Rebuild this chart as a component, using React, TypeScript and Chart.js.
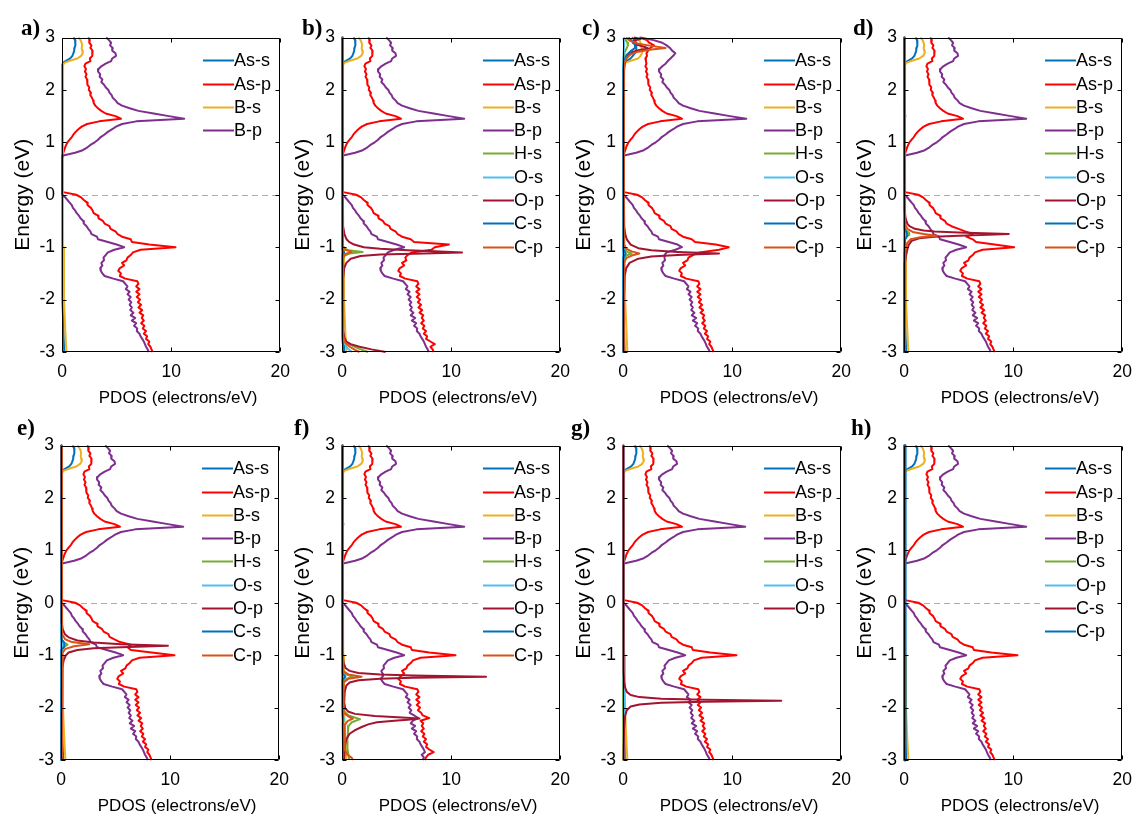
import React, { useEffect, useRef } from 'react';
import { Chart, registerables } from 'chart.js';
Chart.register(...registerables);

const FONT = '"Liberation Sans", Arial, Helvetica, sans-serif';
const TICK_SIZE = 17.5;
const TITLE_X_SIZE = 17;
const TITLE_Y_SIZE = 21;
const LEGEND_SIZE = 18;

// ---- axis settings ----
const xMin = 0, xMax = 20, xStep = 10;
const yMin = -3, yMax = 3, yStep = 1;
const fermiLevel = 0;
const xTitle = 'PDOS (electrons/eV)';
const yTitle = 'Energy (eV)';

// ---- colours (MATLAB palette) ----
const BLUE = '#0072BD', RED = '#FF0000', YEL = '#EDB120', PUR = '#7E2F8E';
const GRN = '#77AC30', LBL = '#4DBEEE', DRD = '#A2142F', ORG = '#D95319';

// ---- energy grid (eV) ----
const energy = [
  3.00, 2.95, 2.90, 2.85, 2.80, 2.75, 2.70, 2.65, 2.60, 2.55,
  2.50, 2.45, 2.40, 2.35, 2.30, 2.25, 2.20, 2.15, 2.10, 2.05,
  2.00, 1.95, 1.90, 1.85, 1.80, 1.75, 1.70, 1.65, 1.60, 1.55,
  1.50, 1.45, 1.40, 1.35, 1.30, 1.25, 1.20, 1.15, 1.10, 1.05,
  1.00, 0.95, 0.90, 0.85, 0.80, 0.75, 0.70, 0.65, 0.60, 0.55,
  0.50, 0.45, 0.40, 0.35, 0.30, 0.25, 0.20, 0.15, 0.10, 0.05,
  0.00, -0.05, -0.10, -0.15, -0.20, -0.25, -0.30, -0.35, -0.40, -0.45,
  -0.50, -0.55, -0.60, -0.65, -0.70, -0.75, -0.80, -0.85, -0.90, -0.95,
  -1.00, -1.05, -1.10, -1.15, -1.20, -1.25, -1.30, -1.35, -1.40, -1.45,
  -1.50, -1.55, -1.60, -1.65, -1.70, -1.75, -1.80, -1.85, -1.90, -1.95,
  -2.00, -2.05, -2.10, -2.15, -2.20, -2.25, -2.30, -2.35, -2.40, -2.45,
  -2.50, -2.55, -2.60, -2.65, -2.70, -2.75, -2.80, -2.85, -2.90, -2.95,
  -3.00,
];

// ---- As-p PDOS on the energy grid ----
const asP_a = [
  2.4, 2.55, 2.5, 2.7, 2.6, 2.8, 2.75, 2.8, 2.55, 2.6,
  2.15, 2.05, 2.2, 2.1, 2.25, 2.15, 2.3, 2.35, 2.3, 2.5,
  2.45, 2.65, 2.6, 2.75, 2.85, 2.9, 3.05, 3.3, 3.6, 4.0,
  4.9, 5.4, 3.4, 2.3, 1.8, 1.5, 1.25, 1.05, 0.9, 0.7,
  0.5, 0.38, 0.28, 0.2, 0.12, 0.03, 0, 0, 0, 0,
  0, 0, 0, 0, 0, 0, 0, 0, 0, 0.1,
  1.3, 1.75, 2.0, 2.3, 2.35, 2.65, 2.8, 2.9, 3.3, 3.35,
  3.75, 3.9, 4.35, 4.45, 4.9, 5.1, 5.5, 6.3, 6.4, 8.0,
  10.4, 7.2, 6.5, 6.3, 6.0, 5.9, 5.5, 5.7, 5.3, 5.15,
  5.4, 5.3, 5.8, 6.9, 7.0, 6.8, 7.1, 6.8, 7.1, 6.85,
  7.15, 6.95, 7.25, 7.0, 7.35, 7.1, 7.45, 7.3, 7.5, 7.25,
  7.55, 7.4, 7.7, 7.5, 7.8, 7.7, 8.0, 7.9, 8.1, 8.2,
  8.3,
];
const asP_b = [
  2.4, 2.55, 2.5, 2.7, 2.6, 2.8, 2.75, 2.8, 2.55, 2.6,
  2.15, 2.05, 2.2, 2.1, 2.25, 2.15, 2.3, 2.35, 2.3, 2.5,
  2.45, 2.65, 2.6, 2.75, 2.85, 2.9, 3.05, 3.3, 3.6, 4.0,
  4.9, 5.4, 3.4, 2.3, 1.8, 1.5, 1.25, 1.05, 0.9, 0.7,
  0.5, 0.38, 0.28, 0.2, 0.12, 0.03, 0, 0, 0, 0,
  0, 0, 0, 0, 0, 0, 0, 0, 0, 0.1,
  1.3, 1.75, 2.0, 2.3, 2.35, 2.65, 2.8, 2.9, 3.3, 3.35,
  3.75, 3.9, 4.35, 4.45, 4.9, 5.1, 5.5, 6.3, 6.6, 9.8,
  8.5, 8.2, 6.4, 6.0, 5.8, 5.9, 5.5, 5.7, 5.3, 5.15,
  5.4, 5.3, 5.8, 6.9, 7.0, 6.8, 7.1, 6.8, 7.1, 6.85,
  7.15, 6.95, 7.25, 7.0, 7.35, 7.1, 7.45, 7.3, 7.5, 7.25,
  7.55, 7.4, 7.7, 7.5, 7.8, 7.7, 8.1, 8.5, 8.1, 8.3,
  8.4,
];
const asP_c = [
  1.5, 2.2, 2.4, 2.85, 2.5, 2.3, 2.15, 2.2, 2.05, 2.1,
  2.15, 2.05, 2.2, 2.1, 2.25, 2.15, 2.3, 2.35, 2.3, 2.5,
  2.45, 2.65, 2.6, 2.75, 2.85, 2.9, 3.05, 3.3, 3.6, 4.0,
  4.9, 5.4, 3.4, 2.3, 1.8, 1.5, 1.25, 1.05, 0.9, 0.7,
  0.5, 0.38, 0.28, 0.2, 0.12, 0.03, 0, 0, 0, 0,
  0, 0, 0, 0, 0, 0, 0, 0, 0, 0.1,
  1.3, 1.75, 2.0, 2.3, 2.35, 2.65, 2.8, 2.9, 3.3, 3.35,
  3.75, 3.9, 4.35, 4.45, 4.9, 5.1, 5.5, 6.3, 6.6, 8.5,
  9.7, 8.8, 7.0, 6.4, 6.0, 5.9, 5.5, 5.7, 5.3, 5.15,
  5.4, 5.3, 5.8, 6.9, 7.0, 6.8, 7.1, 6.8, 7.1, 6.85,
  7.15, 6.95, 7.25, 7.0, 7.35, 7.1, 7.45, 7.3, 7.5, 7.25,
  7.55, 7.4, 7.7, 7.5, 7.8, 7.7, 8.0, 7.9, 8.1, 8.2,
  8.3,
];
const asP_d = [
  2.4, 2.55, 2.5, 2.7, 2.6, 2.8, 2.75, 2.8, 2.55, 2.6,
  2.15, 2.05, 2.2, 2.1, 2.25, 2.15, 2.3, 2.35, 2.3, 2.5,
  2.45, 2.65, 2.6, 2.75, 2.85, 2.9, 3.05, 3.3, 3.6, 4.0,
  4.9, 5.4, 3.4, 2.3, 1.8, 1.5, 1.25, 1.05, 0.9, 0.7,
  0.5, 0.38, 0.28, 0.2, 0.12, 0.03, 0, 0, 0, 0,
  0, 0, 0, 0, 0, 0, 0, 0, 0, 0.1,
  1.3, 1.75, 2.0, 2.3, 2.35, 2.65, 2.8, 2.9, 3.3, 3.35,
  3.75, 3.9, 4.35, 5.0, 5.6, 6.3, 5.7, 6.3, 6.6, 8.3,
  10.1, 7.2, 6.5, 6.3, 6.0, 5.9, 5.5, 5.7, 5.3, 5.15,
  5.4, 5.3, 5.8, 6.9, 7.0, 6.8, 7.1, 6.8, 7.1, 6.85,
  7.15, 6.95, 7.25, 7.0, 7.35, 7.1, 7.45, 7.3, 7.5, 7.25,
  7.55, 7.4, 7.7, 7.5, 7.8, 7.7, 8.0, 7.9, 8.1, 8.2,
  8.3,
];
const asP_e = [
  2.4, 2.55, 2.5, 2.7, 2.6, 2.8, 2.75, 2.8, 2.55, 2.6,
  2.15, 2.05, 2.2, 2.1, 2.25, 2.15, 2.3, 2.35, 2.3, 2.5,
  2.45, 2.65, 2.6, 2.75, 2.85, 2.9, 3.05, 3.3, 3.6, 4.0,
  4.9, 5.4, 3.4, 2.3, 1.8, 1.5, 1.25, 1.05, 0.9, 0.7,
  0.5, 0.38, 0.28, 0.2, 0.12, 0.03, 0, 0, 0, 0,
  0, 0, 0, 0, 0, 0, 0, 0, 0, 0.1,
  1.3, 1.75, 2.0, 2.3, 2.35, 2.65, 2.8, 2.9, 3.3, 3.35,
  3.75, 3.9, 4.35, 4.45, 4.9, 5.4, 6.4, 6.1, 6.4, 8.3,
  10.4, 7.2, 6.5, 6.3, 6.0, 5.9, 5.5, 5.7, 5.3, 5.15,
  5.4, 5.3, 5.8, 6.9, 7.0, 6.8, 7.1, 6.8, 7.1, 6.85,
  7.15, 6.95, 7.25, 7.0, 7.35, 7.1, 7.45, 7.3, 7.5, 7.25,
  7.55, 7.4, 7.7, 7.5, 7.8, 7.7, 8.0, 7.9, 8.1, 8.2,
  8.3,
];
const asP_f = [
  2.4, 2.55, 2.5, 2.7, 2.6, 2.8, 2.75, 2.8, 2.55, 2.6,
  2.15, 2.05, 2.2, 2.1, 2.25, 2.15, 2.3, 2.35, 2.3, 2.5,
  2.45, 2.65, 2.6, 2.75, 2.85, 2.9, 3.05, 3.3, 3.6, 4.0,
  4.9, 5.4, 3.4, 2.3, 1.8, 1.5, 1.25, 1.05, 0.9, 0.7,
  0.5, 0.38, 0.28, 0.2, 0.12, 0.03, 0, 0, 0, 0,
  0, 0, 0, 0, 0, 0, 0, 0, 0, 0.1,
  1.3, 1.75, 2.0, 2.3, 2.35, 2.65, 2.8, 2.9, 3.3, 3.35,
  3.75, 3.9, 4.35, 4.45, 4.9, 5.1, 5.5, 6.3, 6.4, 8.0,
  10.4, 7.2, 6.5, 6.3, 6.0, 5.9, 5.5, 5.7, 5.4, 5.15,
  5.4, 5.3, 5.8, 6.9, 7.0, 6.8, 7.1, 6.8, 7.1, 6.85,
  7.15, 6.95, 7.25, 7.4, 8.0, 7.2, 7.45, 7.3, 7.5, 7.25,
  7.55, 7.4, 7.7, 7.5, 7.8, 7.7, 8.0, 8.4, 7.9, 7.7,
  7.6,
];

// ---- B-p PDOS on the energy grid ----
const bP_a = [
  4.05, 4.3, 4.5, 4.4, 4.65, 4.6, 4.9, 4.95, 4.6, 4.5,
  4.0, 3.6, 3.35, 3.3, 3.5, 3.45, 3.7, 3.6, 3.85, 4.0,
  4.25, 4.35, 4.55, 4.65, 4.9, 5.1, 5.5, 6.2, 7.0, 8.4,
  9.8, 11.2, 6.8, 5.5, 4.95, 4.6, 4.2, 3.9, 3.55, 3.3,
  3.0, 2.6, 2.3, 1.9, 1.2, 0.1, 0, 0, 0, 0,
  0, 0, 0, 0, 0, 0, 0, 0, 0, 0,
  0.05, 0.3, 0.5, 0.7, 0.9, 1.0, 1.2, 1.35, 1.55, 1.7,
  1.95, 2.0, 2.25, 2.4, 2.6, 2.7, 3.2, 3.3, 4.2, 5.0,
  5.7, 4.8, 4.2, 4.0, 3.8, 3.85, 3.6, 3.7, 3.5, 3.55,
  3.7, 3.9, 4.7, 5.6, 5.8, 6.0, 5.85, 6.2, 6.0, 6.3,
  6.1, 6.35, 6.2, 6.4, 6.25, 6.55, 6.3, 6.7, 6.4, 6.8,
  6.6, 6.9, 6.85, 7.1, 7.2, 7.35, 7.5, 7.6, 7.7, 7.85,
  7.95,
];
const bP_c = [
  1.6, 2.8, 3.6, 4.0, 4.3, 4.5, 4.8, 4.6, 4.35, 4.1,
  3.9, 3.6, 3.35, 3.3, 3.5, 3.45, 3.7, 3.6, 3.85, 4.0,
  4.25, 4.35, 4.55, 4.65, 4.9, 5.1, 5.5, 6.2, 7.0, 8.4,
  9.8, 11.3, 6.8, 5.5, 4.95, 4.6, 4.2, 3.9, 3.55, 3.3,
  3.0, 2.6, 2.3, 1.9, 1.2, 0.1, 0, 0, 0, 0,
  0, 0, 0, 0, 0, 0, 0, 0, 0, 0,
  0.05, 0.3, 0.5, 0.7, 0.9, 1.0, 1.2, 1.35, 1.55, 1.7,
  1.95, 2.0, 2.25, 2.4, 2.6, 2.7, 3.2, 3.3, 4.2, 5.0,
  5.4, 4.8, 4.0, 3.8, 3.8, 3.85, 3.6, 3.7, 3.5, 3.55,
  3.7, 3.9, 4.7, 5.6, 5.8, 6.0, 5.85, 6.2, 6.0, 6.3,
  6.1, 6.35, 6.2, 6.4, 6.25, 6.55, 6.3, 6.7, 6.4, 6.8,
  6.6, 6.9, 6.85, 7.1, 7.2, 7.35, 7.5, 7.6, 7.7, 7.85,
  7.95,
];
const bP_f = [
  4.05, 4.3, 4.5, 4.4, 4.65, 4.6, 4.9, 4.95, 4.6, 4.5,
  4.0, 3.6, 3.35, 3.3, 3.5, 3.45, 3.7, 3.6, 3.85, 4.0,
  4.25, 4.35, 4.55, 4.65, 4.9, 5.1, 5.5, 6.2, 7.0, 8.4,
  9.8, 11.2, 6.8, 5.5, 4.95, 4.6, 4.2, 3.9, 3.55, 3.3,
  3.0, 2.6, 2.3, 1.9, 1.2, 0.1, 0, 0, 0, 0,
  0, 0, 0, 0, 0, 0, 0, 0, 0, 0,
  0.05, 0.3, 0.5, 0.7, 0.9, 1.0, 1.2, 1.35, 1.55, 1.7,
  1.95, 2.0, 2.25, 2.4, 2.6, 2.7, 3.2, 3.3, 4.2, 5.0,
  5.7, 4.8, 4.2, 4.0, 3.8, 3.85, 3.6, 3.7, 3.75, 3.55,
  3.7, 3.9, 4.7, 5.6, 5.8, 6.0, 5.85, 6.2, 6.0, 6.3,
  6.1, 6.35, 6.2, 6.6, 7.0, 6.5, 6.3, 6.7, 6.4, 6.8,
  6.6, 6.9, 6.85, 7.1, 7.2, 7.35, 7.5, 7.6, 7.3, 7.5,
  7.4,
];

// ---- sparse series: [energy, PDOS] pairs ----
type Pt = [number, number];

const asS_base: Pt[] = [[3, 1.05], [2.95, 1.2], [2.9, 1.25], [2.85, 1.2], [2.8, 1.15], [2.75, 1.12], [2.7, 1.05], [2.65, 0.95], [2.6, 0.75], [2.56, 0.4], [2.52, 0.1], [2.48, 0.03], [0, 0.02], [-1.5, 0.03], [-2.0, 0.06], [-2.5, 0.12], [-3, 0.2]];
const bS_base: Pt[] = [[3, 1.5], [2.95, 1.7], [2.9, 1.8], [2.85, 1.85], [2.8, 1.8], [2.75, 1.85], [2.7, 1.9], [2.65, 1.75], [2.6, 1.4], [2.56, 0.8], [2.52, 0.25], [2.48, 0.1], [1.0, 0.08], [0, 0.08], [-1.0, 0.1], [-2.0, 0.18], [-2.5, 0.28], [-3, 0.4]];
const flat0: Pt[] = [[3, 0.02], [-3, 0.02]];

// panel b
const hS_b: Pt[] = [[3, 0.02], [-0.95, 0.03], [-1.02, 0.2], [-1.06, 0.6], [-1.09, 1.9], [-1.12, 0.7], [-1.16, 0.25], [-1.25, 0.05], [-2.7, 0.05], [-2.8, 0.3], [-2.87, 0.8], [-2.94, 1.6], [-3, 2.4]];
const oS_b: Pt[] = [[3, 0.02], [-1.05, 0.03], [-1.1, 0.15], [-1.15, 0.03], [-2.75, 0.05], [-2.85, 0.25], [-2.93, 0.5], [-3, 0.9]];
const oP_b: Pt[] = [[3, 0.02], [-0.6, 0.1], [-0.75, 0.22], [-0.85, 0.42], [-0.9, 0.65], [-0.95, 1.1], [-1.0, 2.0], [-1.03, 3.5], [-1.06, 6.0], [-1.08, 8.5], [-1.1, 11.0], [-1.12, 7.5], [-1.14, 3.5], [-1.17, 1.7], [-1.22, 0.8], [-1.3, 0.4], [-1.4, 0.2], [-1.6, 0.1], [-2.6, 0.1], [-2.72, 0.2], [-2.8, 0.4], [-2.85, 0.8], [-2.9, 1.6], [-2.95, 2.7], [-3, 4.0]];
const cS_b: Pt[] = [[3, 0.03], [-1.05, 0.04], [-1.1, 0.2], [-1.15, 0.04], [-2.8, 0.05], [-3, 0.2]];
const cP_b: Pt[] = [[3, 0.06], [-1.0, 0.08], [-1.05, 0.3], [-1.09, 0.9], [-1.13, 0.3], [-1.2, 0.1], [-2.7, 0.1], [-2.82, 0.3], [-2.9, 0.7], [-2.96, 1.2], [-3, 1.6]];

// panel c
const asS_c: Pt[] = [[3, 0.8], [2.95, 1.1], [2.9, 1.2], [2.85, 1.25], [2.8, 1.2], [2.75, 1.2], [2.7, 1.1], [2.65, 0.9], [2.6, 0.7], [2.56, 0.4], [2.52, 0.1], [2.48, 0.03], [0, 0.02], [-2, 0.05], [-3, 0.15]];
const bS_c: Pt[] = [[3, 1.2], [2.95, 1.5], [2.9, 1.6], [2.85, 1.65], [2.8, 1.7], [2.75, 1.75], [2.7, 1.75], [2.65, 1.6], [2.6, 1.4], [2.56, 0.8], [2.52, 0.25], [2.48, 0.1], [0, 0.08], [-2, 0.2], [-3, 0.4]];
const hS_c: Pt[] = [[3, 0.1], [2.95, 0.25], [2.9, 0.4], [2.85, 0.45], [2.8, 0.35], [2.72, 0.15], [2.6, 0.05], [2.4, 0.02], [-1.0, 0.03], [-1.08, 0.3], [-1.12, 0.8], [-1.16, 0.3], [-1.25, 0.05], [-3, 0.03]];
const oS_c: Pt[] = [[3, 0.05], [2.85, 0.1], [2.6, 0.02], [-3, 0.02]];
const oP_c: Pt[] = [[3, 1.0], [2.97, 1.6], [2.94, 1.0], [2.9, 0.9], [2.86, 1.3], [2.82, 2.0], [2.79, 2.3], [2.76, 1.5], [2.72, 0.8], [2.65, 0.4], [2.55, 0.2], [2.4, 0.1], [1.5, 0.05], [-0.6, 0.1], [-0.75, 0.2], [-0.85, 0.35], [-0.95, 0.7], [-1.02, 1.4], [-1.06, 2.6], [-1.09, 5.0], [-1.12, 8.8], [-1.15, 5.0], [-1.18, 2.6], [-1.22, 1.4], [-1.3, 0.6], [-1.4, 0.3], [-1.55, 0.15], [-2, 0.08], [-3, 0.05]];
const cS_c: Pt[] = [[3, 0.5], [2.92, 0.9], [2.86, 1.1], [2.8, 1.1], [2.74, 0.7], [2.66, 0.3], [2.55, 0.1], [2.4, 0.03], [-1.05, 0.04], [-1.12, 0.25], [-1.2, 0.04], [-3, 0.03]];
const cP_c: Pt[] = [[3, 0.3], [2.94, 0.6], [2.88, 1.4], [2.84, 2.6], [2.8, 3.9], [2.77, 2.6], [2.73, 1.4], [2.68, 0.7], [2.6, 0.3], [2.5, 0.12], [2.3, 0.08], [-0.95, 0.08], [-1.03, 0.3], [-1.08, 0.8], [-1.12, 1.5], [-1.16, 0.8], [-1.21, 0.3], [-1.3, 0.1], [-3, 0.06]];

// panel d
const hS_d: Pt[] = [[3, 0.02], [-0.6, 0.03], [-0.68, 0.15], [-0.72, 0.45], [-0.76, 0.5], [-0.8, 0.2], [-0.88, 0.05], [-3, 0.02]];
const oS_d: Pt[] = [[3, 0.02], [-0.7, 0.03], [-0.75, 0.15], [-0.8, 0.03], [-3, 0.02]];
const oP_d: Pt[] = [[3, 0.02], [-0.3, 0.05], [-0.45, 0.15], [-0.55, 0.3], [-0.6, 0.5], [-0.65, 1.0], [-0.68, 1.8], [-0.7, 2.8], [-0.72, 5.0], [-0.75, 9.6], [-0.78, 5.0], [-0.8, 2.8], [-0.83, 1.4], [-0.88, 0.7], [-0.95, 0.45], [-1.05, 0.3], [-1.15, 0.2], [-1.3, 0.08], [-3, 0.02]];
const cS_d: Pt[] = [[3, 0.05], [1.6, 0.05], [1.5, 0.12], [1.4, 0.05], [-0.65, 0.05], [-0.72, 0.25], [-0.78, 0.3], [-0.85, 0.1], [-1.1, 0.05], [-3, 0.03]];
const cP_d: Pt[] = [[3, 0.08], [-0.55, 0.1], [-0.65, 0.3], [-0.71, 0.8], [-0.75, 1.8], [-0.78, 3.0], [-0.81, 1.5], [-0.85, 0.6], [-0.92, 0.3], [-1.05, 0.12], [-3, 0.08]];

// panel e
const hS_e: Pt[] = [[3, 0.02], [-0.7, 0.05], [-0.76, 0.3], [-0.8, 0.6], [-0.84, 0.3], [-0.9, 0.05], [-3, 0.02]];
const oS_e: Pt[] = [[3, 0.02], [-0.75, 0.03], [-0.8, 0.15], [-0.85, 0.03], [-3, 0.02]];
const oP_e: Pt[] = [[3, 0.02], [-0.35, 0.05], [-0.5, 0.15], [-0.6, 0.35], [-0.66, 0.7], [-0.72, 1.5], [-0.76, 3.0], [-0.79, 5.5], [-0.82, 9.8], [-0.85, 5.5], [-0.87, 3.0], [-0.9, 1.5], [-0.95, 0.7], [-1.0, 0.45], [-1.1, 0.25], [-1.25, 0.1], [-3, 0.03]];
const cS_e: Pt[] = [[3, 0.05], [-0.7, 0.05], [-0.77, 0.3], [-0.84, 0.3], [-0.9, 0.05], [-3, 0.03]];
const cP_e: Pt[] = [[3, 0.08], [-0.6, 0.1], [-0.7, 0.4], [-0.75, 1.0], [-0.79, 2.6], [-0.83, 1.2], [-0.88, 0.4], [-0.95, 0.15], [-3, 0.08]];

// panel f
const hS_f: Pt[] = [[3, 0.02], [-1.3, 0.05], [-1.37, 0.4], [-1.41, 1.0], [-1.45, 0.4], [-1.52, 0.1], [-2.05, 0.1], [-2.15, 0.6], [-2.22, 1.65], [-2.28, 0.9], [-2.35, 0.6], [-2.45, 0.55], [-2.6, 0.5], [-2.8, 0.5], [-2.9, 0.6], [-3, 0.65]];
const oS_f: Pt[] = [[3, 0.02], [-1.35, 0.05], [-1.41, 0.3], [-1.47, 0.05], [-2.15, 0.05], [-2.22, 0.2], [-2.3, 0.05], [-3, 0.1]];
const oP_f: Pt[] = [[3, 0.02], [-1.0, 0.05], [-1.15, 0.15], [-1.25, 0.35], [-1.3, 0.7], [-1.34, 1.5], [-1.37, 3.5], [-1.39, 6.5], [-1.41, 13.2], [-1.43, 6.5], [-1.45, 3.5], [-1.48, 1.5], [-1.52, 0.7], [-1.58, 0.4], [-1.7, 0.25], [-1.9, 0.2], [-2.02, 0.3], [-2.08, 0.6], [-2.12, 1.2], [-2.16, 3.0], [-2.19, 5.5], [-2.21, 7.1], [-2.23, 6.0], [-2.25, 4.8], [-2.28, 3.2], [-2.32, 2.4], [-2.37, 1.8], [-2.43, 1.2], [-2.5, 0.7], [-2.6, 0.4], [-2.75, 0.25], [-3, 0.2]];
const cS_f: Pt[] = [[3, 0.04], [1.6, 0.05], [1.5, 0.12], [1.4, 0.05], [-1.35, 0.05], [-1.41, 0.3], [-1.47, 0.05], [-2.2, 0.08], [-3, 0.1]];
const cP_f: Pt[] = [[3, 0.08], [-1.3, 0.1], [-1.37, 0.6], [-1.41, 1.8], [-1.45, 0.6], [-1.52, 0.15], [-2.1, 0.15], [-2.17, 0.6], [-2.21, 1.0], [-2.26, 0.5], [-2.35, 0.2], [-2.8, 0.25], [-2.9, 0.5], [-2.96, 0.9], [-3, 1.0]];

// panel g
const oS_g: Pt[] = [[3, 0.02], [-1.2, 0.03], [-1.5, 0.08], [-2.0, 0.15], [-2.5, 0.15], [-3, 0.12]];
const oP_g: Pt[] = [[3, 0.02], [-1.3, 0.05], [-1.5, 0.1], [-1.62, 0.2], [-1.7, 0.35], [-1.76, 0.7], [-1.8, 1.5], [-1.83, 3.5], [-1.85, 7.5], [-1.87, 14.5], [-1.89, 7.5], [-1.91, 3.5], [-1.94, 1.5], [-1.98, 0.7], [-2.05, 0.35], [-2.15, 0.2], [-2.4, 0.1], [-3, 0.05]];

// panel h
const oP_h: Pt[] = [[3, 0.03], [-3, 0.03]];
const cS_h: Pt[] = [[3, 0.05], [-3, 0.05]];
const cP_h: Pt[] = [[3, 0.1], [-3, 0.1]];

// ---- panel layout ----
type Series = { label: string; color: string; grid?: number[]; pts?: Pt[]; width?: number };
type Panel = { tag: string; left: number; top: number; tagX: number; tagY: number; series: Series[] };

const WL = 62, TP = 14, PW = 222, PH = 318, RP = 16, HB = 66;
const CW = WL + PW + RP, CH = TP + PH + HB;

const panels: Panel[] = [
  { tag: 'a)', left: 62, top: 34, tagX: 21, tagY: 16, series: [
    { label: 'As-s', color: BLUE, pts: asS_base }, { label: 'As-p', color: RED, grid: asP_a },
    { label: 'B-s', color: YEL, pts: bS_base }, { label: 'B-p', color: PUR, grid: bP_a },
  ] },
  { tag: 'b)', left: 342, top: 34, tagX: 302, tagY: 16, series: [
    { label: 'As-s', color: BLUE, pts: asS_base }, { label: 'As-p', color: RED, grid: asP_b },
    { label: 'B-s', color: YEL, pts: bS_base }, { label: 'B-p', color: PUR, grid: bP_a },
    { label: 'H-s', color: GRN, pts: hS_b }, { label: 'O-s', color: LBL, pts: oS_b },
    { label: 'O-p', color: DRD, pts: oP_b }, { label: 'C-s', color: BLUE, pts: cS_b },
    { label: 'C-p', color: ORG, pts: cP_b },
  ] },
  { tag: 'c)', left: 623, top: 34, tagX: 582, tagY: 16, series: [
    { label: 'As-s', color: BLUE, pts: asS_c }, { label: 'As-p', color: RED, grid: asP_c },
    { label: 'B-s', color: YEL, pts: bS_c }, { label: 'B-p', color: PUR, grid: bP_c },
    { label: 'H-s', color: GRN, pts: hS_c }, { label: 'O-s', color: LBL, pts: oS_c },
    { label: 'O-p', color: DRD, pts: oP_c }, { label: 'C-s', color: BLUE, pts: cS_c },
    { label: 'C-p', color: ORG, pts: cP_c },
  ] },
  { tag: 'd)', left: 904, top: 34, tagX: 853, tagY: 16, series: [
    { label: 'As-s', color: BLUE, pts: asS_base }, { label: 'As-p', color: RED, grid: asP_d },
    { label: 'B-s', color: YEL, pts: bS_base }, { label: 'B-p', color: PUR, grid: bP_a },
    { label: 'H-s', color: GRN, pts: hS_d }, { label: 'O-s', color: LBL, pts: oS_d },
    { label: 'O-p', color: DRD, pts: oP_d }, { label: 'C-s', color: BLUE, pts: cS_d },
    { label: 'C-p', color: ORG, pts: cP_d },
  ] },
  { tag: 'e)', left: 61, top: 442, tagX: 17, tagY: 416, series: [
    { label: 'As-s', color: BLUE, pts: asS_base }, { label: 'As-p', color: RED, grid: asP_e },
    { label: 'B-s', color: YEL, pts: bS_base }, { label: 'B-p', color: PUR, grid: bP_a },
    { label: 'H-s', color: GRN, pts: hS_e }, { label: 'O-s', color: LBL, pts: oS_e },
    { label: 'O-p', color: DRD, pts: oP_e }, { label: 'C-s', color: BLUE, pts: cS_e },
    { label: 'C-p', color: ORG, pts: cP_e },
  ] },
  { tag: 'f)', left: 342, top: 442, tagX: 294, tagY: 416, series: [
    { label: 'As-s', color: BLUE, pts: asS_base }, { label: 'As-p', color: RED, grid: asP_f },
    { label: 'B-s', color: YEL, pts: bS_base }, { label: 'B-p', color: PUR, grid: bP_f },
    { label: 'H-s', color: GRN, pts: hS_f }, { label: 'O-s', color: LBL, pts: oS_f },
    { label: 'O-p', color: DRD, pts: oP_f }, { label: 'C-s', color: BLUE, pts: cS_f },
    { label: 'C-p', color: ORG, pts: cP_f },
  ] },
  { tag: 'g)', left: 623, top: 442, tagX: 571, tagY: 416, series: [
    { label: 'As-s', color: BLUE, pts: asS_base }, { label: 'As-p', color: RED, grid: asP_a },
    { label: 'B-s', color: YEL, pts: bS_base }, { label: 'B-p', color: PUR, grid: bP_a },
    { label: 'H-s', color: GRN, pts: flat0 }, { label: 'O-s', color: LBL, pts: oS_g },
    { label: 'O-p', color: DRD, pts: oP_g },
  ] },
  { tag: 'h)', left: 904, top: 442, tagX: 851, tagY: 416, series: [
    { label: 'As-s', color: BLUE, pts: asS_base }, { label: 'As-p', color: RED, grid: asP_a },
    { label: 'B-s', color: YEL, pts: bS_base }, { label: 'B-p', color: PUR, grid: bP_a },
    { label: 'O-s', color: GRN, pts: flat0 }, { label: 'O-p', color: LBL, pts: oP_h },
    { label: 'C-s', color: DRD, pts: cS_h }, { label: 'C-p', color: BLUE, pts: cP_h, width: 3 },
  ] },
];

const framePlugin = {
  id: 'matlabFrame',
  beforeDatasetsDraw(chart: any) {
    const { ctx, scales } = chart;
    const py = Math.round(scales.y.getPixelForValue(fermiLevel)) + 0.5;
    ctx.save();
    ctx.strokeStyle = '#EE8E8E';
    ctx.lineWidth = 1;
    ctx.setLineDash([6, 4]);
    ctx.beginPath();
    ctx.moveTo(scales.x.getPixelForValue(xMin), py);
    ctx.lineTo(scales.x.getPixelForValue(xMax), py);
    ctx.stroke();
    ctx.restore();
  },
  afterDatasetsDraw(chart: any) {
    const { ctx, chartArea, scales } = chart;
    const { left, right, top, bottom } = chartArea;
    ctx.save();
    // legend
    const items = chart.data.datasets.filter((d: any) => d.label);
    const lx = left + 141;
    const ly0 = top + 22.7;
    const step = 23.3;
    ctx.fillStyle = '#ffffff';
    ctx.fillRect(left + 136, top + 4, right - 2 - (left + 136), ly0 + (items.length - 1) * step + 12 - (top + 4));
    ctx.font = `${LEGEND_SIZE}px ${FONT}`;
    ctx.textBaseline = 'middle';
    ctx.textAlign = 'left';
    items.forEach((d: any, i: number) => {
      const yy = Math.round(ly0 + i * step) + 0.5;
      ctx.strokeStyle = d.borderColor;
      ctx.lineWidth = 2;
      ctx.setLineDash([]);
      ctx.beginPath();
      ctx.moveTo(lx, yy);
      ctx.lineTo(lx + 31, yy);
      ctx.stroke();
      ctx.fillStyle = '#000';
      ctx.fillText(d.label, lx + 31, yy + 1);
    });
    // box + inward ticks
    const L = Math.round(left) + 0.5, R = Math.round(right) - 0.5;
    const T = Math.round(top) + 0.5, B = Math.round(bottom) - 0.5;
    ctx.strokeStyle = '#000';
    ctx.lineWidth = 1;
    ctx.beginPath();
    ctx.rect(L, T, R - L, B - T);
    const tl = 4;
    scales.y.ticks.forEach((t: any) => {
      const p = Math.round(scales.y.getPixelForValue(t.value)) + 0.5;
      ctx.moveTo(L, p); ctx.lineTo(L + tl, p);
      ctx.moveTo(R, p); ctx.lineTo(R - tl, p);
    });
    scales.x.ticks.forEach((t: any) => {
      const p = Math.round(scales.x.getPixelForValue(t.value)) + 0.5;
      ctx.moveTo(p, B); ctx.lineTo(p, B - tl);
      ctx.moveTo(p, T); ctx.lineTo(p, T + tl);
    });
    ctx.stroke();
    // x-axis title (slightly right of centre, as in the original)
    ctx.fillStyle = '#000';
    ctx.font = `${TITLE_X_SIZE}px ${FONT}`;
    ctx.textAlign = 'center';
    ctx.textBaseline = 'middle';
    ctx.fillText(xTitle, (left + right) / 2 + 7, bottom + 46);
    ctx.restore();
  },
};

function PanelChart({ p }: { p: Panel }) {
  const ref = useRef<HTMLCanvasElement | null>(null);
  useEffect(() => {
    const datasets = p.series.map((s, i) => ({
      label: s.label,
      data: s.grid
        ? s.grid.map((v, k) => ({ x: v, y: energy[k] }))
        : (s.pts as Pt[]).map(([e, v]) => ({ x: v, y: e })),
      borderColor: s.color,
      backgroundColor: s.color,
      borderWidth: s.width ?? 2,
      pointRadius: 0,
      pointHoverRadius: 0,
      showLine: true,
      fill: false,
      tension: 0,
      order: -i,
      clip: false as any,
      borderJoinStyle: 'round' as const,
    }));
    const chart = new Chart(ref.current as HTMLCanvasElement, {
      type: 'scatter',
      data: { datasets },
      options: {
        animation: false,
        responsive: false,
        maintainAspectRatio: false,
        devicePixelRatio: 1,
        events: [],
        layout: { padding: { left: 0, right: RP, top: TP, bottom: 0 } },
        plugins: { legend: { display: false }, tooltip: { enabled: false } },
        scales: {
          x: {
            type: 'linear', position: 'bottom', min: xMin, max: xMax,
            ticks: { stepSize: xStep, color: '#000', font: { family: FONT, size: TICK_SIZE }, padding: 10, maxRotation: 0 },
            grid: { display: false, drawTicks: false },
            border: { display: false },
            title: { display: false },
            afterFit: (s: any) => { s.height = HB; },
          },
          y: {
            type: 'linear', position: 'left', min: yMin, max: yMax,
            ticks: { stepSize: yStep, color: '#000', font: { family: FONT, size: TICK_SIZE }, padding: 7 },
            grid: { display: false, drawTicks: false },
            border: { display: false },
            title: { display: true, text: yTitle, color: '#000', font: { family: FONT, size: TITLE_Y_SIZE }, padding: { top: 11, bottom: 0 } },
            afterFit: (s: any) => { s.width = WL; },
          },
        },
      } as any,
      plugins: [framePlugin],
    });
    return () => chart.destroy();
  }, [p]);
  return (
    <canvas
      ref={ref}
      width={CW}
      height={CH}
      style={{ position: 'absolute', left: p.left - WL, top: p.top - TP, width: CW, height: CH }}
    />
  );
}

export default function App() {
  return (
    <div style={{ position: 'absolute', left: 0, top: 0, width: 1141, height: 821, background: '#fff', overflow: 'hidden' }}>
      {panels.map((p) => (
        <PanelChart key={p.tag} p={p} />
      ))}
      {panels.map((p) => (
        <div
          key={'t' + p.tag}
          style={{
            position: 'absolute', left: p.tagX, top: p.tagY,
            font: 'bold 23px "Liberation Serif", "Times New Roman", serif', color: '#000', lineHeight: '23px',
          }}
        >
          {p.tag}
        </div>
      ))}
    </div>
  );
}
